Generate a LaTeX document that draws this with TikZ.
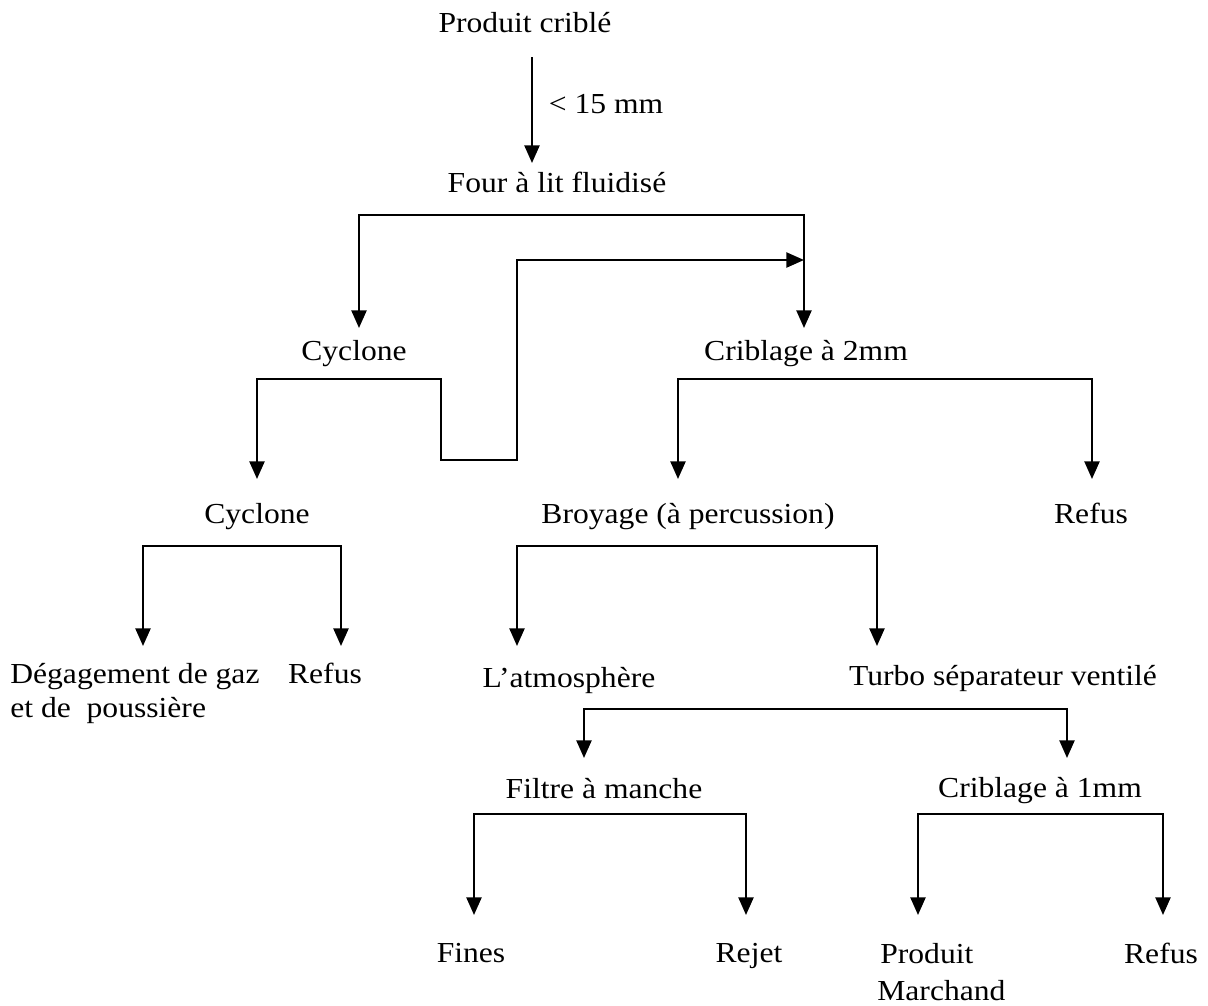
\documentclass[tikz,border=0pt]{standalone}
\usepackage{fontspec}
\setmainfont{Liberation Serif}[FakeStretch=1.09]
\usetikzlibrary{arrows.meta,calc}

\begin{document}
\begin{tikzpicture}[
    x=0.02cm, y=-0.02cm,
    stage/.style={
        inner sep=0pt, anchor=base,
        font=\fontsize{16.5pt}{19.5pt}\selectfont
    },
    arrow/.style={-{Triangle[length=10pt, width=8.5pt]}, line width=1.3pt},
    fork/.style={{Triangle[length=10pt, width=8.5pt]}-{Triangle[length=10pt, width=8.5pt]}, line width=1.3pt}
]
\useasboundingbox (0,0) rectangle (1208,1005);

% Process stages
\node[stage] (prod)   at (525,32)   {Produit criblé};
\node[stage] (lim)    at (606,113)  {< 15 mm};
\node[stage] (four)   at (557,192)  {Four à lit fluidisé};
\node[stage] (cyc1)   at (354,360)  {Cyclone};
\node[stage] (crib2)  at (806,360)  {Criblage à 2mm};
\node[stage] (cyc2)   at (257,523)  {Cyclone};
\node[stage] (broy)   at (688,523)  {Broyage (à percussion)};
\node[stage] (refus1) at (1091,523) {Refus};
\node[stage, anchor=north west, align=left] (dega) at (10,663) {Dégagement de gaz\\et de\ \ poussière};
\node[stage] (refus2) at (325,683)  {Refus};
\node[stage] (atmo)   at (569,687)  {L’atmosphère};
\node[stage] (turbo)  at (1003,685) {Turbo séparateur ventilé};
\node[stage] (filtre) at (604,798)  {Filtre à manche};
\node[stage] (crib1)  at (1040,797) {Criblage à 1mm};
\node[stage] (fines)  at (471,962)  {Fines};
\node[stage] (rejet)  at (749,962)  {Rejet};
\node[stage, anchor=north west, align=left] (march) at (877,943) {\hspace*{1.7pt}Produit\\[1.5pt]Marchand};
\node[stage] (refus3) at (1161,963) {Refus};

% Feed
\draw[arrow] ($(prod.base)+(7,25)$) -- ($(four.base)+(-25,-29)$);

% Kiln split
\coordinate (kb) at (580,215);
\coordinate (c2in) at ($(crib2.base)+(-2,-32)$);
\draw[fork] ($(cyc1.base)+(5,-32)$) |- (kb) -| (c2in);

% Cyclone split, return to screening
\coordinate (cb) at (441,379);
\coordinate (dip) at (517,460);
\coordinate (rise) at (517,260);
\draw[fork] ($(cyc2.base)+(0,-44)$) |- (cb) |- (dip) -- (rise) -- (rise -| c2in);

% Screening 2 mm
\coordinate (sb) at (880,379);
\draw[fork] ($(broy.base)+(-10,-44)$) |- (sb) -| ($(refus1.base)+(1,-44)$);

% Second cyclone
\coordinate (cb2) at (240,546);
\draw[fork] ($(dega.north west)+(133,-17)$) |- (cb2) -| ($(refus2.base)+(16,-37)$);

% Crusher
\coordinate (bb) at (700,546);
\draw[fork] ($(atmo.base)+(-52,-41)$) |- (bb) -| ($(turbo.base)+(-126,-39)$);

% Turbo separator
\coordinate (tb) at (800,709);
\draw[fork] ($(filtre.base)+(-20,-40)$) |- (tb) -| ($(crib1.base)+(27,-39)$);

% Bag filter
\coordinate (fb) at (600,814);
\draw[fork] ($(fines.base)+(3,-47)$) |- (fb) -| ($(rejet.base)+(-3,-47)$);

% Screening 1 mm
\coordinate (sb1) at (1040,814);
\draw[fork] ($(march.north west)+(41,-28)$) |- (sb1) -| ($(refus3.base)+(2,-48)$);

\end{tikzpicture}
\end{document}
